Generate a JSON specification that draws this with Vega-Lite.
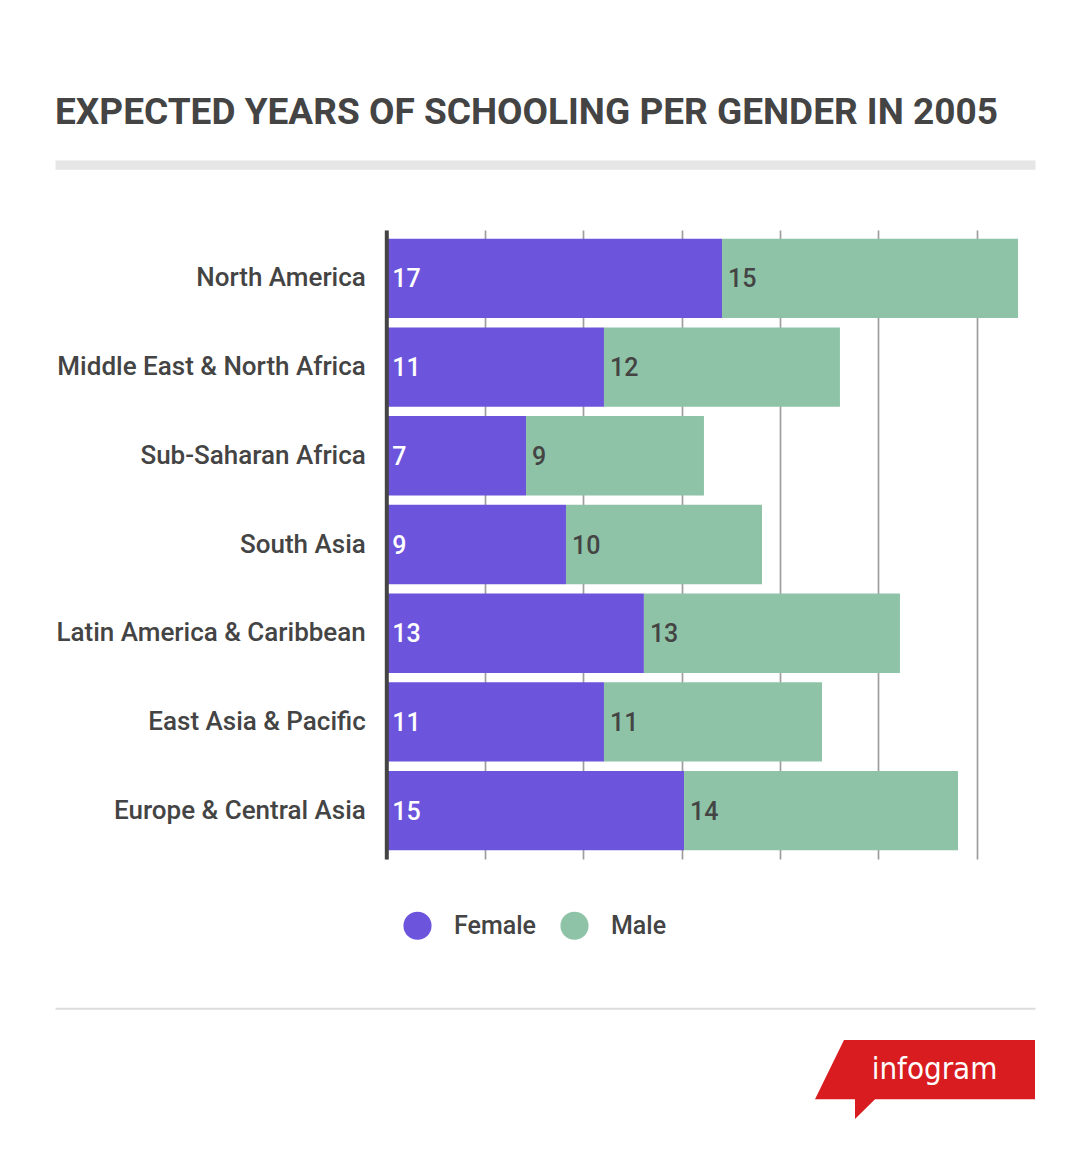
{
  "$schema": "https://vega.github.io/schema/vega-lite/v6.json",
  "width": 980,
  "height": 629,
  "autosize": {"type": "none"},
  "padding": {"left": 55, "top": 230, "right": 55, "bottom": 297},
  "background": "white",
  "title": {
    "text": "EXPECTED YEARS OF SCHOOLING PER GENDER IN 2005",
    "anchor": "start",
    "frame": "group",
    "font": "Roboto",
    "fontSize": 37,
    "fontWeight": "bold",
    "color": "#444444",
    "baseline": "alphabetic",
    "offset": 4
  },
  "config": {"view": {"stroke": null}, "font": "Roboto"},
  "data": {
    "values": [
      {"region": "North America", "gender": "Female", "years": 17.06},
      {"region": "North America", "gender": "Male", "years": 15.04},
      {"region": "Middle East & North Africa", "gender": "Female", "years": 11.06},
      {"region": "Middle East & North Africa", "gender": "Male", "years": 11.99},
      {"region": "Sub-Saharan Africa", "gender": "Female", "years": 7.10},
      {"region": "Sub-Saharan Africa", "gender": "Male", "years": 9.04},
      {"region": "South Asia", "gender": "Female", "years": 9.13},
      {"region": "South Asia", "gender": "Male", "years": 9.96},
      {"region": "Latin America & Caribbean", "gender": "Female", "years": 13.09},
      {"region": "Latin America & Caribbean", "gender": "Male", "years": 13.01},
      {"region": "East Asia & Pacific", "gender": "Female", "years": 11.06},
      {"region": "East Asia & Pacific", "gender": "Male", "years": 11.08},
      {"region": "Europe & Central Asia", "gender": "Female", "years": 15.13},
      {"region": "Europe & Central Asia", "gender": "Male", "years": 13.92}
    ]
  },
  "encoding": {
    "y": {
      "field": "region",
      "type": "nominal",
      "sort": ["North America", "Middle East & North Africa", "Sub-Saharan Africa", "South Asia", "Latin America & Caribbean", "East Asia & Pacific", "Europe & Central Asia"],
      "scale": {"paddingInner": 0.106, "paddingOuter": 0.0975},
      "axis": {
        "orient": "left",
        "offset": -331.3,
        "title": null,
        "ticks": false,
        "tickSize": 0,
        "labelPadding": 21,
        "labelFontSize": 26,
        "labelFontWeight": 500,
        "labelColor": "#444444",
        "labelFont": "Roboto",
        "labelLimit": 400,
        "domainColor": "#444444",
        "domainWidth": 4,
        "zindex": 1
      }
    }
  },
  "resolve": {"axis": {"x": "independent"}},
  "layer": [
    {
      "mark": {"type": "bar"},
      "encoding": {
        "x": {
          "field": "years",
          "type": "quantitative",
          "stack": "zero",
          "scale": {"domain": [-16.834, 32.962], "nice": false, "zero": false},
          "axis": {
            "orient": "bottom",
            "offset": 149.3,
            "values": [0, 5, 10, 15, 20, 25, 30],
            "labels": false,
            "ticks": false,
            "title": null,
            "grid": true,
            "gridColor": "#9e9e9e",
            "gridWidth": 1.7,
            "domainColor": "#dddddd",
            "domainWidth": 2,
            "zindex": 0
          }
        },
        "color": {
          "field": "gender",
          "type": "nominal",
          "scale": {"domain": ["Female", "Male"], "range": ["#6c54dc", "#8ec3a7"]},
          "legend": {
            "title": null,
            "orient": "none",
            "legendX": 348,
            "legendY": 681,
            "direction": "horizontal",
            "symbolType": "circle",
            "symbolSize": 790,
            "symbolStrokeWidth": 0,
            "labelFontSize": 25,
            "labelFontWeight": 500,
            "labelColor": "#444444",
            "labelFont": "Roboto",
            "labelOffset": 22,
            "columnPadding": 24,
            "padding": 0
          }
        },
        "order": {"field": "gender", "sort": "ascending"}
      }
    },
    {
      "transform": [
        {"stack": "years", "groupby": ["region"], "sort": [{"field": "gender", "order": "ascending"}], "as": ["y0", "y1"]}
      ],
      "mark": {"type": "text", "align": "left", "baseline": "middle", "dx": 6, "dy": 1, "fontSize": 25, "fontWeight": 500, "font": "Roboto"},
      "encoding": {
        "x": {
          "field": "y0",
          "type": "quantitative",
          "scale": {"domain": [-16.834, 32.962], "nice": false, "zero": false},
          "axis": {
            "orient": "top",
            "offset": 65.3,
            "labels": false,
            "ticks": false,
            "grid": false,
            "title": null,
            "domainColor": "#e6e6e6",
            "domainWidth": 9.3
          }
        },
        "text": {"field": "years", "type": "quantitative", "format": ".0f"},
        "color": {"condition": {"test": "datum.gender === 'Female'", "value": "#ffffff"}, "value": "#444444"}
      }
    },
    {
      "data": {"values": []},
      "mark": {"type": "point", "filled": true, "color": "#d81c1f", "opacity": 1},
      "encoding": {
        "shape": {
          "datum": "infogram",
          "type": "nominal",
          "scale": {"range": ["M-0.7364,-0.2695L1,-0.2695L1,0.2695L-0.4545,0.2695L-0.6364,0.4486L-0.6364,0.2695L-1,0.2695Z"]},
          "legend": {
            "title": null,
            "orient": "none",
            "legendX": 760,
            "legendY": 729.6,
            "symbolSize": 48400,
            "symbolStrokeWidth": 0,
            "symbolFillColor": "#d81c1f",
            "symbolOpacity": 1,
            "labelColor": "#ffffff",
            "labelFont": "Liberation Sans Narrow, DejaVu Sans Condensed, sans-serif",
            "labelFontSize": 31,
            "labelAlign": "center",
            "labelOffset": -100.5,
            "padding": 0
          }
        }
      }
    }
  ]
}
